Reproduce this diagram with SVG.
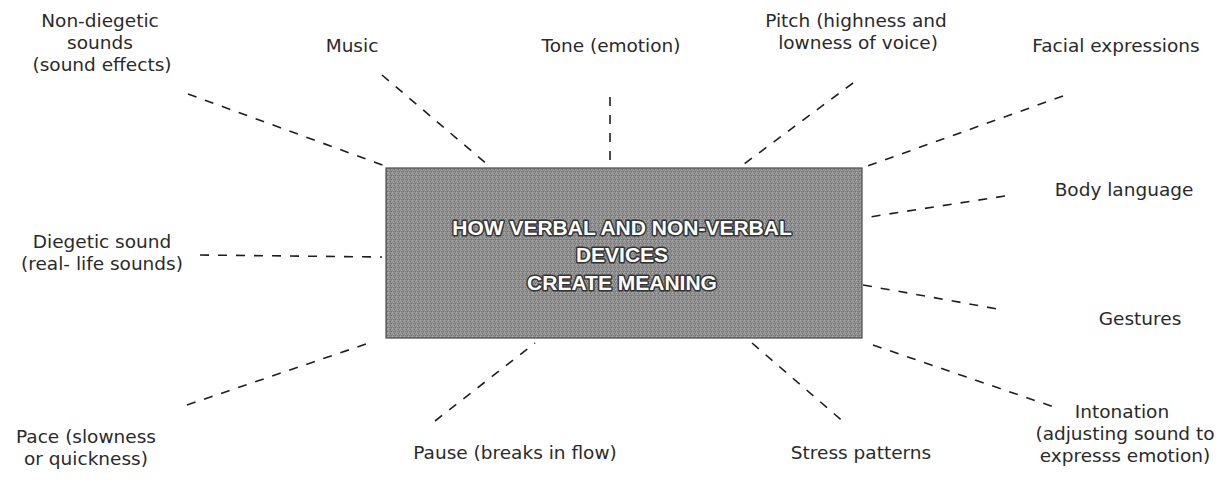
<svg xmlns="http://www.w3.org/2000/svg" width="1230" height="489" viewBox="0 0 1230 489">
<style>
.lbl{font-family:"DejaVu Sans","Open Sans",sans-serif;font-size:18.5px;fill:#2a2a2a;text-anchor:middle}
.ttl{font-family:"Liberation Sans",Arial,sans-serif;font-size:21px;font-weight:bold;fill:#ffffff;stroke:#333333;stroke-width:3px;stroke-linejoin:round;paint-order:stroke;text-anchor:middle}
.conn line{stroke:#1e1e1e;stroke-width:1.6;stroke-dasharray:9 9;fill:none}
</style>
<defs>
<pattern id="dither" width="4" height="4" patternUnits="userSpaceOnUse">
<rect width="4" height="4" fill="#8e8e8e"/>
<rect x="0" y="0" width="1" height="1" fill="#b0b0b0"/>
<rect x="2" y="1" width="1" height="1" fill="#6a6a6a"/>
<rect x="1" y="2" width="1" height="1" fill="#a8a8a8"/>
<rect x="3" y="3" width="1" height="1" fill="#707070"/>
<rect x="3" y="1" width="1" height="1" fill="#a4a4a4"/>
<rect x="1" y="3" width="1" height="1" fill="#767676"/>
</pattern>
</defs>
<rect width="1230" height="489" fill="#ffffff"/>
<g id="connectors" class="conn">
<line x1="188" y1="94" x2="388" y2="167"/>
<line x1="382" y1="75" x2="488" y2="165"/>
<line x1="610" y1="97" x2="610" y2="166"/>
<line x1="853" y1="83" x2="740" y2="167"/>
<line x1="1063" y1="96" x2="862" y2="168"/>
<line x1="1005" y1="196" x2="863" y2="218"/>
<line x1="200" y1="255" x2="382" y2="257"/>
<line x1="863" y1="285" x2="1003" y2="310"/>
<line x1="187" y1="405" x2="372" y2="342"/>
<line x1="435" y1="421" x2="535" y2="343"/>
<line x1="752" y1="343" x2="846" y2="424"/>
<line x1="873" y1="345" x2="1057" y2="408"/>
</g>
<g id="center">
<rect x="386" y="168" width="476" height="170" fill="url(#dither)" stroke="#4a4a4a" stroke-width="1.2"/>
<text class="ttl" x="622" y="235">HOW VERBAL AND NON-VERBAL</text>
<text class="ttl" x="622" y="262">DEVICES</text>
<text class="ttl" x="622" y="290">CREATE MEANING</text>
</g>
<g id="non-diegetic"><text class="lbl" x="100" y="27">Non-diegetic</text><text class="lbl" x="100" y="49">sounds</text><text class="lbl" x="102" y="71">(sound effects)</text></g>
<g id="music"><text class="lbl" x="352" y="52">Music</text></g>
<g id="tone"><text class="lbl" x="611" y="52">Tone (emotion)</text></g>
<g id="pitch"><text class="lbl" x="856" y="27">Pitch (highness and</text><text class="lbl" x="858" y="49">lowness of voice)</text></g>
<g id="facial"><text class="lbl" x="1116" y="52">Facial expressions</text></g>
<g id="body"><text class="lbl" x="1124" y="196">Body language</text></g>
<g id="diegetic"><text class="lbl" x="102" y="248">Diegetic sound</text><text class="lbl" x="102" y="270">(real- life sounds)</text></g>
<g id="gestures"><text class="lbl" x="1140" y="325">Gestures</text></g>
<g id="pace"><text class="lbl" x="86" y="443">Pace (slowness</text><text class="lbl" x="86" y="465">or quickness)</text></g>
<g id="pause"><text class="lbl" x="515" y="459">Pause (breaks in flow)</text></g>
<g id="stress"><text class="lbl" x="861" y="459">Stress patterns</text></g>
<g id="intonation"><text class="lbl" x="1122" y="418">Intonation</text><text class="lbl" x="1125" y="440">(adjusting sound to</text><text class="lbl" x="1125" y="462">expresss emotion)</text></g>
</svg>
